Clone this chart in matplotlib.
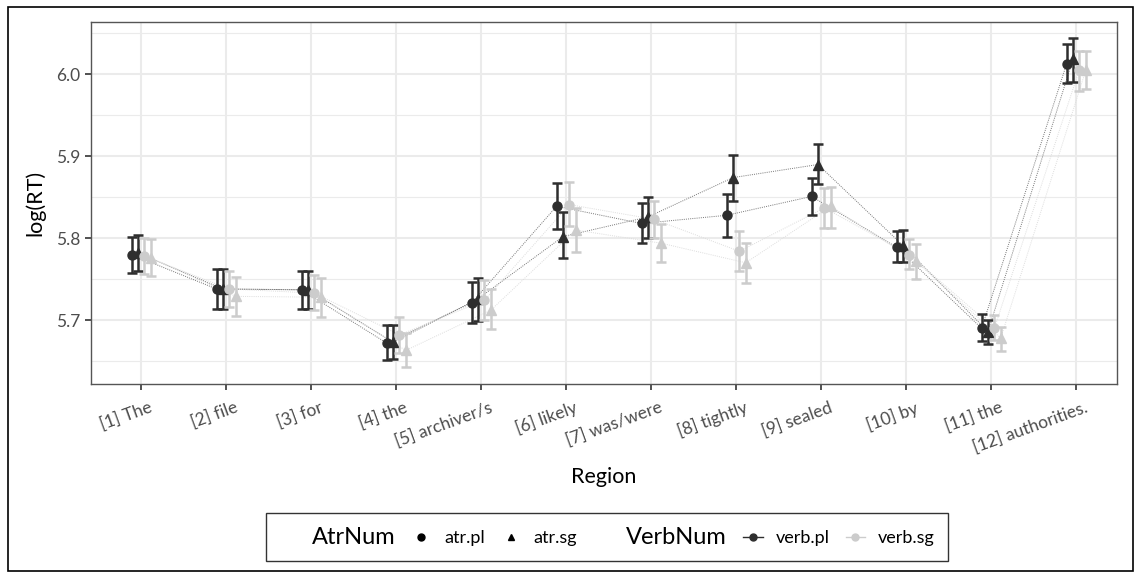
import matplotlib.pyplot as plt
from matplotlib.lines import Line2D
from matplotlib.patches import Rectangle
import matplotlib.transforms as mtransforms
import numpy as np

plt.rcParams['font.family'] = ['Lato', 'DejaVu Sans']

regions = ["[1] The", "[2] file", "[3] for", "[4] the", "[5] archiver/s", "[6] likely",
           "[7] was/were", "[8] tightly", "[9] sealed", "[10] by", "[11] the", "[12] authorities."]

# means and 95% CI bounds per condition (AtrNum x VerbNum)
pl_pl = [5.780, 5.738, 5.737, 5.672, 5.721, 5.839, 5.818, 5.828, 5.851, 5.789, 5.690, 6.013]
pl_pl_lo = [5.758, 5.713, 5.713, 5.651, 5.696, 5.811, 5.794, 5.802, 5.828, 5.771, 5.675, 5.989]
pl_pl_hi = [5.802, 5.763, 5.760, 5.694, 5.746, 5.867, 5.843, 5.854, 5.874, 5.809, 5.707, 6.037]

sg_pl = [5.782, 5.738, 5.737, 5.673, 5.726, 5.802, 5.826, 5.874, 5.890, 5.791, 5.686, 6.019]
sg_pl_lo = [5.760, 5.714, 5.714, 5.652, 5.699, 5.776, 5.800, 5.845, 5.866, 5.771, 5.671, 5.991]
sg_pl_hi = [5.804, 5.763, 5.760, 5.694, 5.752, 5.832, 5.850, 5.902, 5.915, 5.810, 5.700, 6.045]

pl_sg = [5.778, 5.738, 5.733, 5.682, 5.724, 5.841, 5.823, 5.784, 5.837, 5.780, 5.690, 6.006]
pl_sg_lo = [5.756, 5.716, 5.712, 5.660, 5.700, 5.815, 5.800, 5.760, 5.813, 5.763, 5.676, 5.980]
pl_sg_hi = [5.800, 5.760, 5.755, 5.704, 5.749, 5.869, 5.845, 5.809, 5.861, 5.799, 5.706, 6.029]

sg_sg = [5.776, 5.729, 5.728, 5.663, 5.712, 5.810, 5.794, 5.770, 5.839, 5.772, 5.678, 6.005]
sg_sg_lo = [5.754, 5.705, 5.704, 5.643, 5.689, 5.783, 5.771, 5.745, 5.813, 5.750, 5.662, 5.982]
sg_sg_hi = [5.799, 5.753, 5.751, 5.684, 5.738, 5.837, 5.817, 5.794, 5.863, 5.793, 5.692, 6.029]

dark = "#2e2e2e"
light = "#cccccc"

groups = [
    (pl_pl, pl_pl_lo, pl_pl_hi, "o", dark, -0.1125),
    (sg_pl, sg_pl_lo, sg_pl_hi, "^", dark, -0.0375),
    (pl_sg, pl_sg_lo, pl_sg_hi, "o", light, 0.0375),
    (sg_sg, sg_sg_lo, sg_sg_hi, "^", light, 0.1125),
]

fig = plt.figure(figsize=(11.34, 5.72), dpi=100)
ax = fig.add_axes([91 / 1134, 1 - 384 / 572, (1117 - 91) / 1134, (384 - 22) / 572])

x = np.arange(1, len(regions) + 1)

for m, lo, hi, mk, col, off in groups:
    xs = x + off
    lc = "#777777" if col == dark else "#dddddd"
    ax.plot(xs, m, linestyle=(0, (1, 1.2)), color=lc, linewidth=0.7, zorder=2)
for m, lo, hi, mk, col, off in groups:
    xs = x + off
    m = np.array(m)
    err = [m - np.array(lo), np.array(hi) - m]
    ax.errorbar(xs, m, yerr=err, fmt="none", ecolor=col, elinewidth=1.8,
                capsize=3.5, capthick=1.8, zorder=3)
    ax.plot(xs, m, linestyle="none", marker=mk, color=col, markersize=6.5, zorder=4)

ax.set_xlim(0.41, 12.48)
ax.set_ylim(5.622, 6.064)
ax.set_xticks(x)
ax.set_xticklabels(regions, rotation=20, ha="right", va="top", rotation_mode="anchor")
ax.set_yticks([5.7, 5.8, 5.9, 6.0])
ax.set_yticks([5.65, 5.75, 5.85, 5.95, 6.05], minor=True)
ax.set_yticklabels(["5.7", "5.8", "5.9", "6.0"])

ax.grid(True, which="major", color="#ebebeb", linewidth=1.5, zorder=0)
ax.grid(True, which="minor", axis="y", color="#ebebeb", linewidth=0.8, zorder=0)
ax.set_axisbelow(True)
for s in ax.spines.values():
    s.set_color("#555555")
    s.set_linewidth(1.0)
ax.tick_params(axis="both", which="major", length=4, width=1.2, color="#333333",
               labelcolor="#4d4d4d", labelsize=12.5)
ax.tick_params(axis="y", which="minor", length=0)
ax.tick_params(axis="x", pad=7)

# shift x labels a little right, like ggplot's hjust=1 on rotated text
shift = mtransforms.ScaledTranslation(8 / 100, 0, fig.dpi_scale_trans)
for lab in ax.get_xticklabels():
    lab.set_transform(lab.get_transform() + shift)

ax.set_xlabel("Region", fontsize=15.5, color="black", labelpad=8)
ax.set_ylabel("log(RT)", fontsize=15.5, color="black", labelpad=8)

# legend
blank = Line2D([], [], linestyle="none", marker="none")
handles = [
    blank,
    Line2D([], [], linestyle="none", marker="o", color="black", markersize=5),
    Line2D([], [], linestyle="none", marker="^", color="black", markersize=5),
    blank,
    Line2D([], [], linestyle="-", marker="o", color=dark, markersize=5, linewidth=1),
    Line2D([], [], linestyle="-", marker="o", color=light, markersize=5, linewidth=1),
]
labels = ["AtrNum", "atr.pl", "atr.sg", "VerbNum", "verb.pl", "verb.sg"]
leg = fig.legend(handles, labels, loc="center", bbox_to_anchor=(607 / 1134, 1 - 537 / 572),
                 ncol=6, frameon=True, fancybox=False, fontsize=13, handlelength=1.1,
                 handletextpad=0.7, columnspacing=0.9, borderpad=0.75)
leg.get_frame().set_edgecolor("black")
leg.get_frame().set_linewidth(1.0)
for i in (0, 3):
    leg.get_texts()[i].set_fontsize(17)

# outer border
fig.patches.append(Rectangle((8 / 1134, 0.001), 1 - 8 / 1134 - 0.001, 1 - 7 / 572 - 0.001,
                             transform=fig.transFigure, fill=False, edgecolor="black",
                             linewidth=1.2))

fig.savefig("out.png", dpi=100)
